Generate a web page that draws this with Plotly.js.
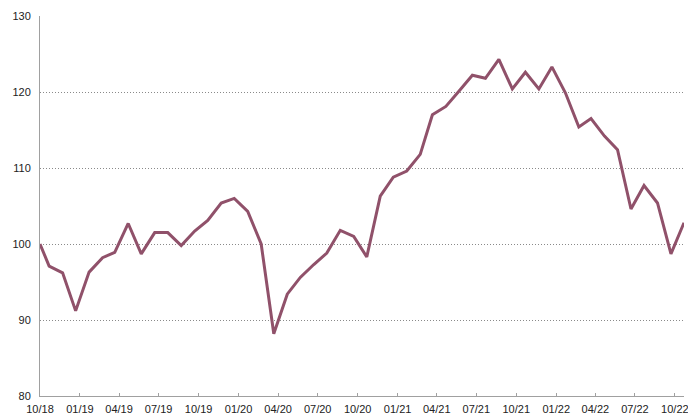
<!DOCTYPE html>
<html>
<head>
<meta charset="utf-8">
<script src="https://cdn.plot.ly/plotly-3.0.1.min.js"></script>
<style>
  html, body { margin: 0; padding: 0; background: #fff; }
  #chart { width: 688px; height: 414px; }
</style>
</head>
<body>
<div id="chart"></div>
<script>
// Observation dates (first point is the index base)
const dates = [
  "2018-10-01", "2018-10-22", "2018-11-22", "2018-12-22",
  "2019-01-22", "2019-02-22", "2019-03-22", "2019-04-22", "2019-05-22", "2019-06-22",
  "2019-07-22", "2019-08-22", "2019-09-22", "2019-10-22", "2019-11-22", "2019-12-22",
  "2020-01-22", "2020-02-22", "2020-03-22", "2020-04-22", "2020-05-22", "2020-06-22",
  "2020-07-22", "2020-08-22", "2020-09-22", "2020-10-22", "2020-11-22", "2020-12-22",
  "2021-01-22", "2021-02-22", "2021-03-22", "2021-04-22", "2021-05-22", "2021-06-22",
  "2021-07-22", "2021-08-22", "2021-09-22", "2021-10-22", "2021-11-22", "2021-12-22",
  "2022-01-22", "2022-02-22", "2022-03-22", "2022-04-22", "2022-05-22", "2022-06-22",
  "2022-07-22", "2022-08-22", "2022-09-22", "2022-10-22"
];

// Index values (base = 100)
const indexValues = [
  100.0, 97.1, 96.2, 91.2,
  96.3, 98.2, 98.9, 102.7, 98.7, 101.5,
  101.5, 99.8, 101.7, 103.1, 105.4, 106.0,
  104.3, 100.0, 88.2, 93.4, 95.6, 97.3,
  98.8, 101.8, 101.0, 98.3, 106.3, 108.8,
  109.6, 111.8, 117.0, 118.1, 120.1, 122.2,
  121.8, 124.3, 120.4, 122.6, 120.4, 123.3,
  119.9, 115.4, 116.5, 114.2, 112.4, 104.6,
  107.7, 105.4, 98.7, 102.8
];

// X tick positions and labels
const xTickDates = [
  "2018-10-01", "2019-01-01", "2019-04-01", "2019-07-01", "2019-10-01",
  "2020-01-01", "2020-04-01", "2020-07-01", "2020-10-01",
  "2021-01-01", "2021-04-01", "2021-07-01", "2021-10-01",
  "2022-01-01", "2022-04-01", "2022-07-01", "2022-10-01"
];
const xTickLabels = [
  "10/18", "01/19", "04/19", "07/19", "10/19",
  "01/20", "04/20", "07/20", "10/20",
  "01/21", "04/21", "07/21", "10/21",
  "01/22", "04/22", "07/22", "10/22"
];

// Y ticks
const yTicks = [80, 90, 100, 110, 120, 130];
const yTickLabels = ["80", "90", "100", "110", "120", "130"];

const xRange = ["2018-10-01", "2022-10-22"];
const yRange = [80, 130];

const lineColor = "#90516A";
const axisColor = "#a0a0a0";
const gridColor = "#8a8a8a";
const fontFamily = "'Liberation Sans', Arial, sans-serif";

const trace = {
  type: "scatter",
  mode: "lines",
  x: dates,
  y: indexValues,
  line: { color: lineColor, width: 3, shape: "linear" },
  cliponaxis: false,
  hoverinfo: "skip"
};

const layout = {
  width: 688,
  height: 414,
  margin: { l: 40, r: 4, t: 16, b: 18 },
  paper_bgcolor: "#ffffff",
  plot_bgcolor: "#ffffff",
  showlegend: false,
  font: { family: fontFamily, size: 11, color: "#222222" },
  xaxis: {
    type: "date",
    range: xRange,
    tickmode: "array",
    tickvals: xTickDates,
    ticktext: xTickLabels,
    ticks: "inside",
    ticklen: 3,
    tickwidth: 1,
    tickcolor: axisColor,
    showline: true,
    linecolor: axisColor,
    linewidth: 1,
    showgrid: false,
    zeroline: false,
    ticklabelstandoff: 3,
    ticklabeloverflow: "allow",
    tickfont: { family: fontFamily, size: 11, color: "#222222" }
  },
  yaxis: {
    range: yRange,
    tickmode: "array",
    tickvals: yTicks,
    ticktext: yTickLabels,
    ticks: "",
    showline: true,
    linecolor: axisColor,
    linewidth: 1,
    showgrid: true,
    gridcolor: gridColor,
    griddash: "1px,2px",
    gridwidth: 1,
    zeroline: false,
    ticklabelstandoff: 6,
    tickfont: { family: fontFamily, size: 11, color: "#222222" }
  }
};

Plotly.newPlot("chart", [trace], layout, { staticPlot: true, displayModeBar: false });
</script>
</body>
</html>
